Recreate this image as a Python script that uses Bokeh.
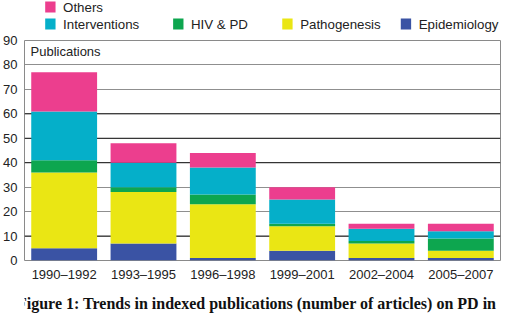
from bokeh.plotting import figure
from bokeh.layouts import column
from bokeh.models import Label, Span, FactorRange, FixedTicker, Range1d
from bokeh.core.properties import value
from bokeh.embed import file_html
from bokeh.resources import INLINE

periods = ["1990–1992", "1993–1995", "1996–1998", "1999–2001", "2002–2004", "2005–2007"]
epidemiology = [5, 7, 1, 4, 1, 1]
pathogenesis = [31, 21, 22, 10, 6, 3]
hiv_pd = [5, 2, 4, 1, 1, 5]
interventions = [20, 10, 11, 10, 5, 3]
others = [16, 8, 6, 5, 2, 3]
series = ["Epidemiology", "Pathogenesis", "HIV & PD", "Interventions", "Others"]
colors = ["#3A53A4", "#EAE614", "#0DA64F", "#05AFC9", "#EC3E8E"]
y_ticks = [0, 10, 20, 30, 40, 50, 60, 70, 80, 90]
dark_grid = [10, 40, 50, 60]
caption = "Figure 1: Trends in indexed publications (number of articles) on PD in"

FONT = "Liberation Sans"
W = 506
TOP_H = 32      # legend strip
CAP_H = 32      # caption strip
MAIN_H = 316 - TOP_H - CAP_H
FL, FT, FB = 22, 40, 261   # frame edges in page pixels

data = {"period": periods, "Epidemiology": epidemiology, "Pathogenesis": pathogenesis,
        "HIV & PD": hiv_pd, "Interventions": interventions, "Others": others}


def strip(h):
    f = figure(width=W, height=h, x_range=Range1d(0, W), y_range=Range1d(h, 0),
               min_border=0, output_backend="svg", toolbar_location=None)
    f.axis.visible = False
    f.grid.visible = False
    f.outline_line_color = None
    f.background_fill_color = "white"
    f.border_fill_color = "white"
    return f


# ---- legend strip ----
leg = strip(TOP_H)
legend_x = [22, 22, 158, 274, 400]
legend_y = [7, 24, 24, 24, 24]
legend_names = ["Others", "Interventions", "HIV & PD", "Pathogenesis", "Epidemiology"]
col_of = dict(zip(series, colors))
leg.rect(x=[x + 5.5 for x in legend_x], y=[y - 0.5 for y in legend_y], width=11, height=11,
         color=[col_of[n] for n in legend_names], line_color=None)
leg.text(x=[x + 19 for x in legend_x], y=legend_y, text=legend_names,
         text_font=value(FONT), text_font_size="13.3px", text_color="#222222",
         text_baseline="middle", text_align="left")

# ---- main chart ----
p = figure(x_range=FactorRange(*periods, range_padding=0), y_range=(0, 90),
           width=W, height=MAIN_H, min_border_left=FL, min_border_right=6,
           min_border_top=FT - TOP_H, min_border_bottom=(TOP_H + MAIN_H) - FB,
           output_backend="svg", toolbar_location=None)
p.background_fill_color = "white"
p.border_fill_color = "white"
p.outline_line_color = "#8a8a8a"

p.vbar_stack(series, x="period", width=0.83, color=colors, source=data, line_color=None)

p.xgrid.grid_line_color = None
p.ygrid.ticker = FixedTicker(ticks=y_ticks)
p.ygrid.grid_line_color = "#8f8f8f"
for v in dark_grid:
    p.add_layout(Span(location=v, dimension="width", line_color="#1c1c1c", line_width=1, level="underlay"))

for ax in (p.xaxis[0], p.yaxis[0]):
    ax.axis_line_color = None
    ax.major_tick_line_color = None
    ax.minor_tick_line_color = None
    ax.major_tick_out = 0
    ax.major_tick_in = 0
    ax.minor_tick_out = 0
    ax.major_label_text_font = FONT
    ax.major_label_text_font_size = "13px"
    ax.major_label_text_color = "#222222"
p.yaxis.ticker = FixedTicker(ticks=y_ticks)
p.yaxis.major_label_standoff = 7
p.xaxis.major_label_standoff = 6

p.add_layout(Label(x=6, y=(FB - FT) - 12, x_units="screen", y_units="screen", text="Publications",
                   text_font=FONT, text_font_size="13px", text_color="#222222", text_baseline="middle"))

# ---- caption strip ----
cap = strip(CAP_H)
cap.text(x=[-8], y=[303 - (316 - CAP_H)], text=[caption],
         text_font=value("Liberation Serif"), text_font_style="bold", text_font_size="16px",
         text_color="#111111", text_baseline="alphabetic", text_align="left")

layout = column(leg, p, cap, spacing=0)
open("out.html", "w").write(file_html(layout, INLINE))
